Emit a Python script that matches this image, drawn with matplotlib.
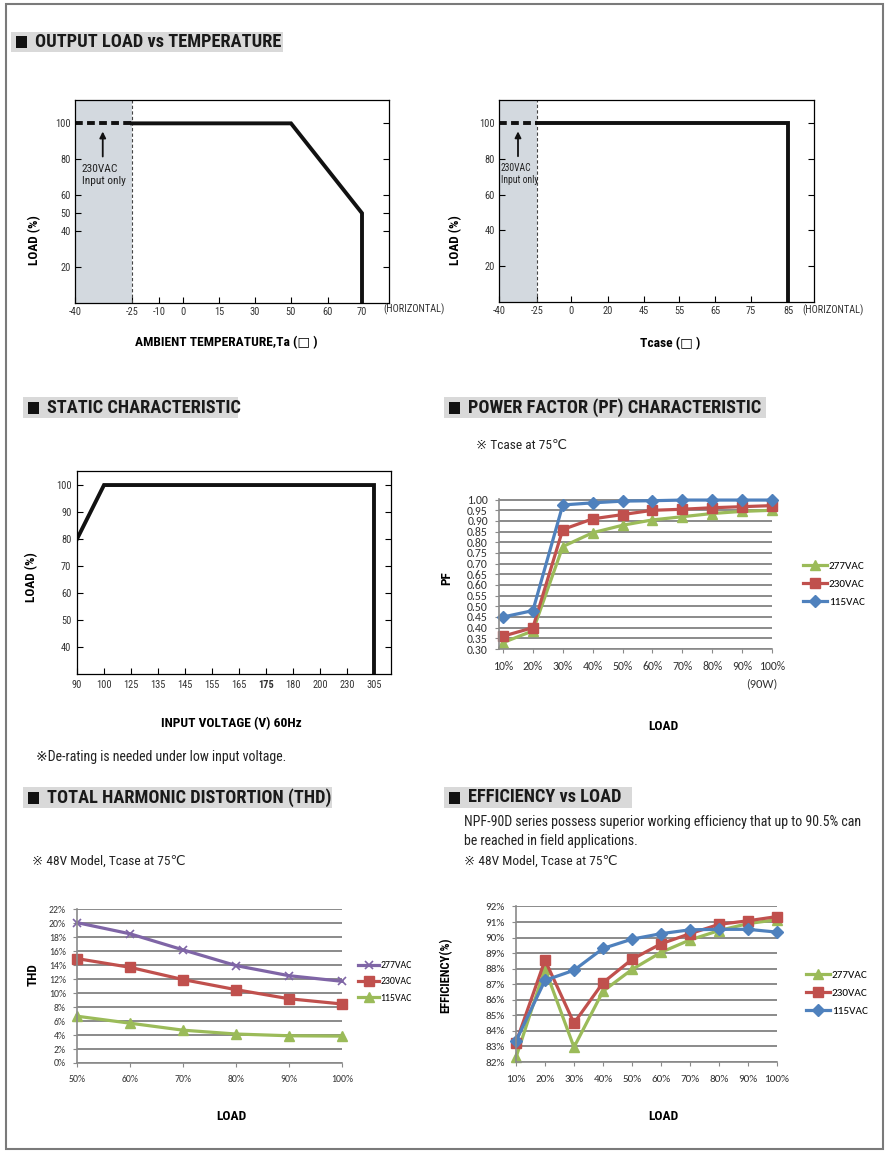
import numpy as np
import matplotlib
matplotlib.use("Agg")
import matplotlib.pyplot as plt
from matplotlib import font_manager
from matplotlib.patches import Rectangle

# ---- data ----
# output load vs ambient temperature
ta_ticks = [-40, -25, -10, 0, 15, 30, 50, 60, 70]
ta_only_x = [-40, -25]          # 230VAC input only region
ta_x = [-25, 50, 70, 70]
ta_load = [100, 100, 50, 0]
load_ticks_a = [20, 40, 50, 60, 80, 100]

# output load vs Tcase
tc_ticks = [-40, -25, 0, 20, 45, 55, 65, 75, 85]
tc_only_x = [-40, -25]
tc_x = [-25, 85, 85]
tc_load = [100, 100, 0]
load_ticks_b = [20, 40, 60, 80, 100]

# static characteristic
sc_volts = ["90", "100", "125", "135", "145", "155", "165", "175", "180", "200", "230", "305"]
sc_curve_v = ["90", "100", "305", "305"]
sc_curve_load = [80, 100, 100, 30]
sc_load_ticks = [40, 50, 60, 70, 80, 90, 100]

# power factor
pf_load = [10, 20, 30, 40, 50, 60, 70, 80, 90, 100]
pf_277 = [0.33, 0.385, 0.78, 0.845, 0.88, 0.905, 0.92, 0.935, 0.945, 0.95]
pf_230 = [0.36, 0.40, 0.86, 0.91, 0.93, 0.95, 0.955, 0.962, 0.967, 0.972]
pf_115 = [0.45, 0.48, 0.975, 0.985, 0.993, 0.995, 0.998, 0.998, 0.998, 0.998]

# THD
thd_load = [50, 60, 70, 80, 90, 100]
thd_277 = [20.1, 18.5, 16.2, 13.95, 12.5, 11.7]
thd_230 = [14.95, 13.7, 11.95, 10.5, 9.2, 8.45]
thd_115 = [6.7, 5.7, 4.7, 4.15, 3.9, 3.85]

# efficiency
eff_load = [10, 20, 30, 40, 50, 60, 70, 80, 90, 100]
eff_277 = [82.3, 88.0, 82.95, 86.55, 87.95, 89.05, 89.85, 90.45, 90.9, 91.15]
eff_230 = [83.25, 88.55, 84.5, 87.1, 88.6, 89.6, 90.25, 90.85, 91.08, 91.35]
eff_115 = [83.35, 87.25, 87.9, 89.3, 89.9, 90.25, 90.5, 90.53, 90.53, 90.35]

GREEN = "#9bbb59"
RED = "#c0504d"
BLUE = "#4f81bd"
PURPLE = "#7f65a6"
GRID = "#8a8a8a"

names = {f.name for f in font_manager.fontManager.ttflist}
NARROW = next((n for n in ["Roboto Condensed", "Liberation Sans Narrow", "Archivo Narrow"]
               if n in names), "Liberation Sans")
plt.rcParams["font.family"] = [NARROW, "DejaVu Sans"]
XL = ["Carlito", "Lato", "DejaVu Sans"]

W, H = 889, 1157
fig = plt.figure(figsize=(W / 100, H / 100), dpi=100)


def pix_axes(x0, y0, x1, y1):
    return fig.add_axes([x0 / W, 1 - y1 / H, (x1 - x0) / W, (y1 - y0) / H])


def ftext(x, y, s, **kw):
    fig.text(x / W, 1 - y / H, s, **kw)


def section(x0, x1, y0, y1, title):
    fig.patches.append(Rectangle((x0 / W, 1 - y1 / H), (x1 - x0) / W, (y1 - y0) / H,
                                 transform=fig.transFigure, facecolor="#d9d9d9", edgecolor="none"))
    fig.patches.append(Rectangle(((x0 + 5) / W, 1 - (y1 - 4) / H), 11 / W, 12 / H,
                                 transform=fig.transFigure, facecolor="#111111", edgecolor="none"))
    ftext(x0 + 24, (y0 + y1) / 2, title, fontsize=13.2, fontweight="bold", va="center", color="#1a1a1a")


def piecewise(ticks, px):
    return (lambda v: np.interp(v, ticks, px), lambda p: np.interp(p, px, ticks))


# page border
fig.patches.append(Rectangle((6 / W, 1 - 1149 / H), 877 / W, 1145 / H, transform=fig.transFigure,
                             facecolor="none", edgecolor="#7a7a7a", lw=1.5))


def derating(ax, ticks, px, xmax, only_x, cx, cy, arrow_x, text_x, tfs):
    f, g = piecewise(ticks + [xmax], px)
    ax.set_xscale("function", functions=(f, g))
    ax.set_xlim(-40, xmax)
    ax.set_ylim(0, 113)
    ax.axvspan(-40, -25, color="#d3d9df", zorder=0, lw=0)
    ax.axvline(-25, color="#444", lw=0.8, ls=(0, (3, 2)))
    ax.plot(only_x, [100, 100], color="#111", lw=2.8, ls=(0, (2, 1.1)))
    ax.plot(cx, cy, color="#111", lw=2.8, solid_joinstyle="miter")
    ax.annotate("", xy=(arrow_x, 97), xytext=(arrow_x, 80),
                arrowprops=dict(arrowstyle="-|>", color="#111", lw=1.3, mutation_scale=9))
    ax.text(text_x, 77.5, "230VAC\nInput only", va="top", ha="left", fontsize=tfs,
            linespacing=1.25, color="#222")
    ax.set_xticks(ticks)
    ax.set_xticklabels([str(t) for t in ticks])
    ax.tick_params(direction="in", length=4, right=True, labelsize=7.5, labelcolor="#333", pad=3)
    for s in ax.spines.values():
        s.set_linewidth(0.9)


# ---- 1. output load vs temperature ----
section(11, 283, 32, 52, "OUTPUT LOAD vs TEMPERATURE")
ax1 = pix_axes(75, 100, 389, 303)
derating(ax1, ta_ticks, [75, 132, 159, 183, 219, 255, 291, 328, 362, 389], 78,
         ta_only_x, ta_x, ta_load, -32.7, -38.2, 8.2)
ax1.set_yticks(load_ticks_a)
ftext(35, 240, "LOAD (%)", rotation=90, fontsize=9.5, fontweight="bold", ha="center", va="center")
ftext(226, 343, "AMBIENT TEMPERATURE,Ta (\u25a1 )", fontsize=9.7, fontweight="bold", ha="center", va="center")
ftext(383, 309, "(HORIZONTAL)", fontsize=7.5, va="center", color="#333")

# ---- 2. output load vs Tcase ----
ax2 = pix_axes(499, 100, 814, 302)
derating(ax2, tc_ticks, [499, 537, 571, 608, 644, 679, 715, 751, 788, 814], 92,
         tc_only_x, tc_x, tc_load, -32.5, -39.4, 6.9)
ax2.set_yticks(load_ticks_b)
ftext(456, 240, "LOAD (%)", rotation=90, fontsize=9.5, fontweight="bold", ha="center", va="center")
ftext(670, 344, "Tcase (\u25a1 )", fontsize=9.7, fontweight="bold", ha="center", va="center")
ftext(802, 310, "(HORIZONTAL)", fontsize=7.5, va="center", color="#333")

# ---- 3. static characteristic ----
section(23, 238, 397, 418, "STATIC CHARACTERISTIC")
ax3 = pix_axes(77, 471, 391, 674)
sx = [sc_volts.index(v) for v in sc_curve_v]
ax3.plot(sx, sc_curve_load, color="#111", lw=2.8, solid_joinstyle="miter")
ax3.set_xlim(0, 11.63)
ax3.set_ylim(30, 105.2)
ax3.set_xticks(range(len(sc_volts)))
ax3.set_xticklabels(sc_volts)
ax3.get_xticklabels()[7].set_fontweight("bold")
ax3.set_yticks(sc_load_ticks)
ax3.tick_params(direction="in", length=4, right=True, labelsize=7.5, labelcolor="#333", pad=4)
for s in ax3.spines.values():
    s.set_linewidth(0.9)
ftext(32, 577, "LOAD (%)", rotation=90, fontsize=9.5, fontweight="bold", ha="center", va="center")
ftext(231, 724, "INPUT VOLTAGE (V) 60Hz", fontsize=9.7, fontweight="bold", ha="center", va="center")
ftext(36, 757, "\u203bDe-rating is needed under low input voltage.", fontsize=10, va="center", color="#222")


def excel_axes(ax, xvals, xlim, ylim, yticks, ylabels, fs):
    ax.set_xlim(*xlim)
    ax.set_ylim(*ylim)
    ax.set_yticks(yticks)
    ax.set_yticklabels(ylabels, family=XL)
    ax.set_xticks(xvals)
    ax.set_xticklabels([f"{v}%" for v in xvals], family=XL)
    ax.grid(axis="y", color=GRID, lw=1.4)
    ax.set_axisbelow(True)
    for k in ("top", "right"):
        ax.spines[k].set_visible(False)
    for k in ("left", "bottom"):
        ax.spines[k].set_color(GRID)
        ax.spines[k].set_linewidth(1.2)
    ax.tick_params(axis="y", length=3, color=GRID, labelsize=fs, labelcolor="#333", pad=5)
    ax.tick_params(axis="x", length=3, color=GRID, labelsize=fs, labelcolor="#333", pad=6)


def legend(handles, x, y, fs, spacing):
    fig.legend(handles=handles, loc="center left", bbox_to_anchor=(x / W, 1 - y / H),
               frameon=False, prop={"family": XL, "size": fs}, handlelength=2.2,
               handletextpad=0.1, labelspacing=spacing, numpoints=1, borderpad=0, borderaxespad=0)


# ---- 4. power factor ----
section(444, 766, 397, 418, "POWER FACTOR (PF) CHARACTERISTIC")
ftext(476, 445, "\u203b Tcase at 75\u2103", fontsize=9.6, va="center", color="#222")
ax4 = pix_axes(499, 499, 772, 649)
h1, = ax4.plot(pf_load, pf_277, color=GREEN, marker="^", ms=7, lw=2.3, clip_on=False, label="277VAC")
h2, = ax4.plot(pf_load, pf_230, color=RED, marker="s", ms=7, lw=2.3, clip_on=False, label="230VAC")
h3, = ax4.plot(pf_load, pf_115, color=BLUE, marker="D", ms=6, lw=2.3, clip_on=False, label="115VAC")
pf_ticks = np.round(np.arange(0.30, 1.001, 0.05), 2)
excel_axes(ax4, pf_load, (8.66, 100), (0.30, 1.003), pf_ticks, [f"{t:.2f}" for t in pf_ticks], 8.5)
legend([h1, h2, h3], 803, 584, 8, 0.75)
ftext(762, 684, "(90W)", fontsize=9, ha="center", va="center", color="#333", family=XL)
ftext(447, 578, "PF", rotation=90, fontsize=9.5, fontweight="bold", ha="center", va="center")
ftext(663, 726, "LOAD", fontsize=9.7, fontweight="bold", ha="center", va="center")

# ---- 5. THD ----
section(23, 332, 787, 808, "TOTAL HARMONIC DISTORTION (THD)")
ftext(32, 861, "\u203b 48V Model, Tcase at 75\u2103", fontsize=9.6, va="center", color="#222")
ax5 = pix_axes(77, 909, 342, 1063)
t1, = ax5.plot(thd_load, thd_277, color=PURPLE, marker="x", ms=6, mew=1.2, lw=2.3, clip_on=False, label="277VAC")
t2, = ax5.plot(thd_load, thd_230, color=RED, marker="s", ms=7, lw=2.3, clip_on=False, label="230VAC")
t3, = ax5.plot(thd_load, thd_115, color=GREEN, marker="^", ms=7, lw=2.3, clip_on=False, label="115VAC")
thd_ticks = list(range(0, 23, 2))
excel_axes(ax5, thd_load, (50, 100), (0, 22.05), thd_ticks, [f"{t}%" for t in thd_ticks], 7)
legend([t1, t2, t3], 358, 982, 7, 0.75)
ftext(33, 975, "THD", rotation=90, fontsize=9.5, fontweight="bold", ha="center", va="center")
ftext(231, 1117, "LOAD", fontsize=9.7, fontweight="bold", ha="center", va="center")

# ---- 6. efficiency ----
section(444, 632, 787, 808, "EFFICIENCY vs LOAD")
ftext(464, 822, "NPF-90D series possess superior working efficiency that up to 90.5% can",
      fontsize=10, va="center", color="#222")
ftext(464, 841, "be reached in field applications.", fontsize=10, va="center", color="#222")
ftext(464, 861, "\u203b 48V Model, Tcase at 75\u2103", fontsize=9.6, va="center", color="#222")
ax6 = pix_axes(516, 906, 777, 1062)
e1, = ax6.plot(eff_load, eff_277, color=GREEN, marker="^", ms=7, lw=2.3, clip_on=False, label="277VAC")
e2, = ax6.plot(eff_load, eff_230, color=RED, marker="s", ms=7, lw=2.3, clip_on=False, label="230VAC")
e3, = ax6.plot(eff_load, eff_115, color=BLUE, marker="D", ms=6, lw=2.3, clip_on=False, label="115VAC")
eff_ticks = list(range(82, 93))
excel_axes(ax6, eff_load, (10, 100), (82, 92.03), eff_ticks, [f"{t}%" for t in eff_ticks], 8)
legend([e1, e2, e3], 806, 993, 8, 0.75)
ftext(446, 975, "EFFICIENCY(%)", rotation=90, fontsize=9, fontweight="bold", ha="center", va="center")
ftext(663, 1117, "LOAD", fontsize=9.7, fontweight="bold", ha="center", va="center")

fig.savefig("out.png", dpi=100)
